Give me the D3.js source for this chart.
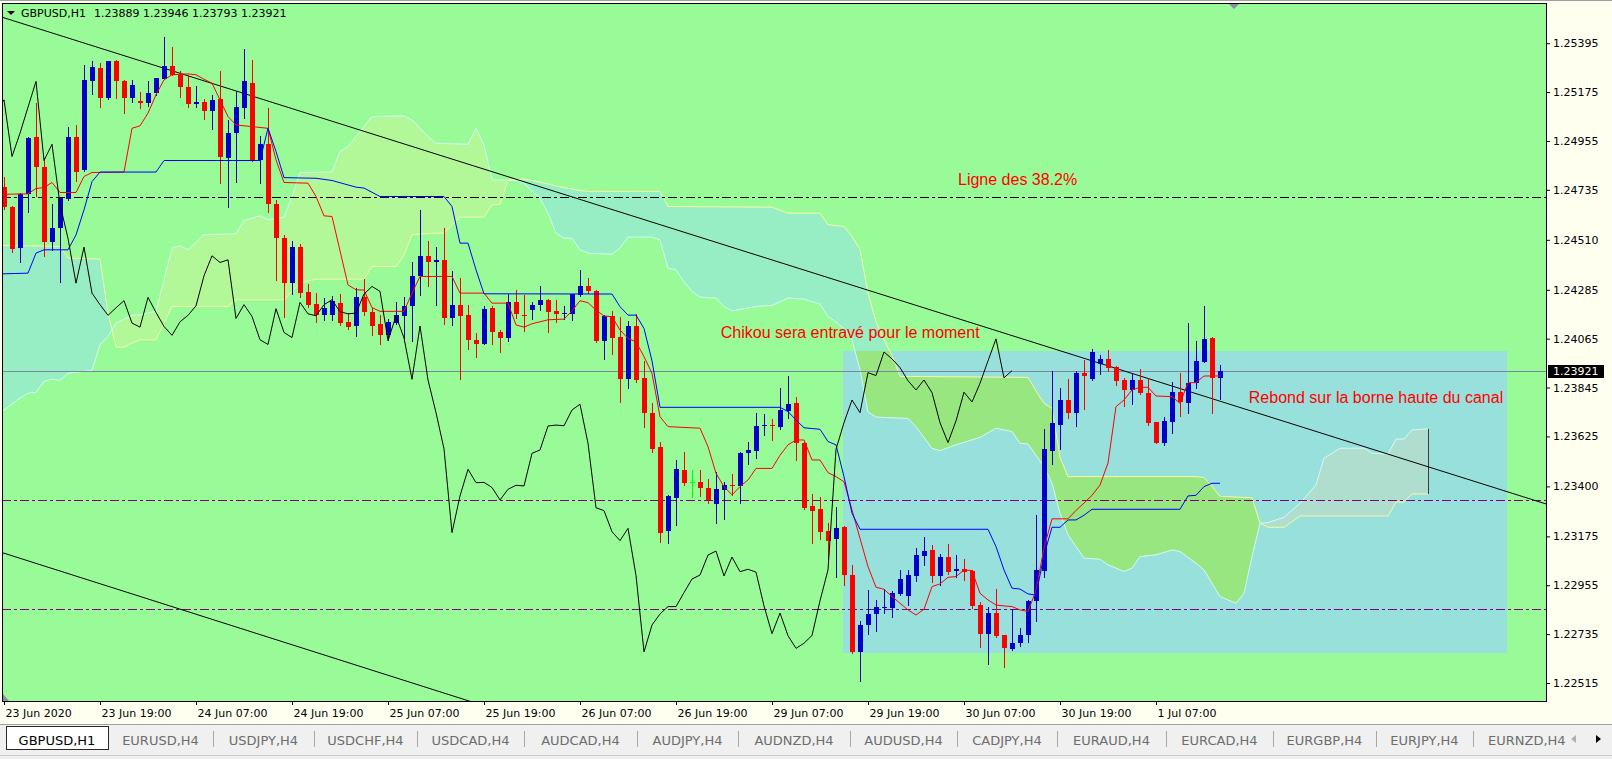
<!DOCTYPE html>
<html>
<head>
<meta charset="utf-8">
<title>GBPUSD,H1</title>
<script src="https://cdn.jsdelivr.net/npm/d3@7"></script>
<style>
  html, body { margin: 0; padding: 0; background: #fffff0; overflow: hidden; }
  svg { display: block; }
</style>
</head>
<body>
<svg id="chart" width="1612" height="759"></svg>
<script>
// Bougies H1, barre 0 = 23 Jun 07:00, barre 152 = 1 Jul 15:00
const open = [
  1.24747,1.24657,1.24471,1.24717,1.24974,1.24836,1.24498,1.24561,1.24695,1.24971,
  1.24825,1.25227,1.25284,1.25150,1.25316,1.25226,1.25150,1.25137,1.25128,1.25170,
  1.25235,1.25293,1.25253,1.25199,1.25121,1.25131,1.25092,1.25145,1.24880,1.24993,
  1.25105,1.25218,1.24870,1.24942,1.24672,1.24518,1.24315,1.24477,1.24276,1.24221,
  1.24170,1.24170,1.24227,1.24141,1.24120,1.24251,1.24186,1.24129,1.24080,1.24136,
  1.24165,1.24210,1.24348,1.24438,1.24408,1.24420,1.24156,1.24218,1.24170,1.24060,
  1.24042,1.24204,1.24096,1.24070,1.24228,1.24172,1.24195,1.24218,1.24240,1.24190,
  1.24178,1.24177,1.24263,1.24300,1.24279,1.24056,1.24167,1.24074,1.23882,1.24122,
  1.23888,1.23731,1.23576,1.23197,1.23349,1.23474,1.23418,1.23420,1.23395,1.23320,
  1.23384,1.23405,1.23404,1.23549,1.23561,1.23670,1.23676,1.23669,1.23741,1.23774,
  1.23597,1.23312,1.23298,1.23199,1.23162,1.23219,1.23001,1.22656,1.22776,1.22824,
  1.22851,1.22854,1.22916,1.22908,1.22997,1.23087,1.23114,1.22997,1.23081,1.23021,
  1.23029,1.23020,1.22865,1.22737,1.22830,1.22731,1.22667,1.22694,1.22729,1.22886,
  1.23021,1.23559,1.23677,1.23789,1.23732,1.23909,1.23884,1.23951,1.23974,1.23939,
  1.23879,1.23834,1.23879,1.23822,1.23690,1.23597,1.23692,1.23824,1.23777,1.23864,
  1.23962,1.24069,1.23889
];
const high = [
  1.24792,1.24660,1.24720,1.24972,1.25124,1.24878,1.24672,1.24700,1.25020,1.25026,
  1.25295,1.25313,1.25305,1.25316,1.25318,1.25230,1.25230,1.25175,1.25227,1.25240,
  1.25424,1.25380,1.25268,1.25253,1.25203,1.25143,1.25162,1.25272,1.25050,1.25178,
  1.25368,1.25320,1.24978,1.25103,1.24690,1.24533,1.24506,1.24492,1.24311,1.24270,
  1.24248,1.24255,1.24266,1.24180,1.24293,1.24335,1.24203,1.24170,1.24153,1.24230,
  1.24251,1.24410,1.24645,1.24506,1.24477,1.24562,1.24370,1.24338,1.24218,1.24090,
  1.24210,1.24213,1.24105,1.24266,1.24284,1.24260,1.24230,1.24303,1.24242,1.24240,
  1.24210,1.24268,1.24372,1.24340,1.24285,1.24170,1.24190,1.24161,1.24144,1.24174,
  1.23964,1.23774,1.23602,1.23361,1.23519,1.23554,1.23474,1.23474,1.23434,1.23464,
  1.23420,1.23454,1.23554,1.23602,1.23729,1.23724,1.23702,1.23845,1.23897,1.23804,
  1.23600,1.23364,1.23354,1.23234,1.23309,1.23222,1.23046,1.22794,1.22934,1.22889,
  1.22937,1.22929,1.23024,1.23024,1.23121,1.23171,1.23136,1.23096,1.23141,1.23089,
  1.23072,1.23024,1.22881,1.22856,1.22939,1.22733,1.22847,1.22762,1.22889,1.23272,
  1.23657,1.23919,1.23842,1.23884,1.23919,1.23969,1.24019,1.23992,1.24014,1.23942,
  1.23887,1.23909,1.23929,1.23887,1.23692,1.23714,1.23872,1.23909,1.24137,1.24055,
  1.24212,1.24071,1.23946
];
const low = [
  1.24650,1.24457,1.24412,1.24633,1.24705,1.24435,1.24465,1.24318,1.24690,1.24773,
  1.24820,1.25167,1.25106,1.25145,1.25150,1.25083,1.25131,1.25103,1.25113,1.25161,
  1.25233,1.25250,1.25155,1.25107,1.25107,1.25053,1.25008,1.24765,1.24657,1.24768,
  1.25058,1.24865,1.24765,1.24635,1.24327,1.24162,1.24267,1.24252,1.24207,1.24140,
  1.24147,1.24150,1.24126,1.24108,1.24075,1.24170,1.24080,1.24041,1.24060,1.24132,
  1.24053,1.24053,1.24262,1.24300,1.24218,1.24132,1.24125,1.23885,1.24020,1.23982,
  1.24040,1.24041,1.24003,1.24053,1.24158,1.24098,1.24153,1.24195,1.24095,1.24142,
  1.24155,1.24147,1.24258,1.24270,1.24050,1.23974,1.23996,1.23782,1.23845,1.23872,
  1.23666,1.23557,1.23150,1.23145,1.23226,1.23406,1.23354,1.23359,1.23327,1.23234,
  1.23252,1.23360,1.23324,1.23503,1.23527,1.23632,1.23609,1.23659,1.23707,1.23519,
  1.23300,1.23144,1.23162,1.23061,1.22994,1.22954,1.22652,1.22525,1.22734,1.22751,
  1.22832,1.22814,1.22911,1.22866,1.22976,1.23046,1.22971,1.22956,1.23004,1.22991,
  1.22979,1.22852,1.22679,1.22599,1.22724,1.22589,1.22664,1.22680,1.22700,1.22792,
  1.22991,1.23499,1.23569,1.23709,1.23673,1.23748,1.23880,1.23906,1.23920,1.23857,
  1.23764,1.23770,1.23816,1.23677,1.23594,1.23587,1.23642,1.23717,1.23732,1.23844,
  1.23960,1.23729,1.23793
];
const close = [
  1.24657,1.24468,1.24717,1.24969,1.24836,1.24498,1.24562,1.24698,1.24975,1.24815,
  1.25230,1.25290,1.25150,1.25313,1.25223,1.25150,1.25208,1.25128,1.25170,1.25238,
  1.25293,1.25253,1.25196,1.25121,1.25131,1.25092,1.25140,1.24885,1.24990,1.25107,
  1.25223,1.24867,1.24940,1.24670,1.24516,1.24315,1.24477,1.24270,1.24218,1.24170,
  1.24204,1.24236,1.24135,1.24117,1.24251,1.24183,1.24120,1.24080,1.24141,1.24170,
  1.24213,1.24348,1.24438,1.24408,1.24420,1.24156,1.24218,1.24165,1.24060,1.24039,
  1.24200,1.24093,1.24070,1.24228,1.24177,1.24168,1.24218,1.24240,1.24186,1.24177,
  1.24180,1.24266,1.24300,1.24278,1.24056,1.24167,1.24068,1.23882,1.24122,1.23879,
  1.23732,1.23569,1.23192,1.23357,1.23477,1.23417,1.23418,1.23395,1.23339,1.23387,
  1.23405,1.23402,1.23549,1.23564,1.23672,1.23676,1.23673,1.23744,1.23770,1.23594,
  1.23304,1.23291,1.23196,1.23156,1.23211,1.22999,1.22655,1.22776,1.22826,1.22859,
  1.22859,1.22922,1.22983,1.23001,1.23091,1.23109,1.22997,1.23082,1.23016,1.23027,
  1.23014,1.22862,1.22737,1.22830,1.22728,1.22671,1.22694,1.22729,1.22885,1.23024,
  1.23567,1.23687,1.23789,1.23732,1.23912,1.23899,1.24005,1.23974,1.23935,1.23876,
  1.23834,1.23879,1.23822,1.23687,1.23597,1.23695,1.23824,1.23780,1.23864,1.23965,
  1.24064,1.23889,1.23921
];

// Ichimoku : [barre, prix]
const tenkan = [[-1,1.24717],[0,1.24715],[3,1.24717],[4,1.24741],[5,1.24745],[6,1.24768],[7,1.24723],[9,1.24723],[10,1.24795],[11,1.24813],[15,1.24815],[16,1.25012],[17,1.25023],[18,1.25080],[19,1.25163],[20,1.25230],[21,1.25253],[23,1.25257],[24,1.25253],[25,1.25233],[26,1.25215],[27,1.25140],[28,1.25065],[29,1.25027],[33,1.25012],[34,1.24870],[35,1.24768],[38,1.24765],[39,1.24705],[40,1.24618],[41,1.24615],[43,1.24307],[44,1.24285],[45,1.24284],[46,1.24205],[47,1.24188],[50,1.24188],[51,1.24270],[52,1.24345],[56,1.24345],[57,1.24270],[60,1.24270],[61,1.24225],[63,1.24225],[64,1.24127],[65,1.24117],[66,1.24132],[68,1.24150],[70,1.24153],[71,1.24190],[72,1.24236],[73,1.24227],[74,1.24194],[75,1.24167],[76,1.24164],[77,1.24104],[78,1.24066],[79,1.24051],[80,1.23984],[81,1.23909],[82,1.23714],[83,1.23669],[87,1.23662],[88,1.23579],[89,1.23459],[90,1.23399],[91,1.23362],[92,1.23399],[93,1.23429],[94,1.23481],[96,1.23481],[97,1.23540],[98,1.23587],[99,1.23609],[100,1.23609],[101,1.23519],[102,1.23519],[103,1.23462],[104,1.23444],[105,1.23421],[106,1.23294],[107,1.23166],[108,1.23039],[109,1.22946],[110,1.22937],[111,1.22904],[112,1.22874],[113,1.22844],[114,1.22821],[115,1.22847],[116,1.22949],[117,1.22961],[118,1.22991],[119,1.22994],[120,1.23024],[121,1.23021],[122,1.22919],[123,1.22889],[124,1.22866],[125,1.22862],[126,1.22859],[127,1.22844],[128,1.22837],[129,1.22931],[130,1.23123],[131,1.23254],[133,1.23254],[134,1.23292],[135,1.23325],[136,1.23360],[137,1.23406],[138,1.23505],[139,1.23759],[140,1.23789],[141,1.23834],[142,1.23846],[143,1.23846],[144,1.23807],[146,1.23804],[147,1.23774],[148,1.23867],[149,1.23867],[150,1.23897],[152,1.23897]];
const kijun = [[-1,1.24357],[0,1.24357],[3,1.24360],[4,1.24450],[5,1.24465],[8,1.24465],[9,1.24532],[10,1.24645],[11,1.24772],[12,1.24815],[19,1.24815],[20,1.24867],[32,1.24867],[33,1.25012],[34,1.24908],[35,1.24790],[39,1.24787],[41,1.24777],[44,1.24747],[45,1.24743],[47,1.24705],[55,1.24705],[56,1.24660],[57,1.24495],[58,1.24495],[59,1.24375],[60,1.24267],[76,1.24266],[77,1.24209],[78,1.24171],[79,1.24171],[80,1.24111],[81,1.23965],[82,1.23756],[97,1.23756],[98,1.23737],[99,1.23699],[100,1.23664],[102,1.23657],[103,1.23602],[104,1.23587],[105,1.23444],[106,1.23279],[107,1.23207],[123,1.23207],[124,1.23129],[125,1.23024],[126,1.22942],[127,1.22938],[128,1.22916],[129,1.22911],[130,1.23090],[131,1.23216],[132,1.23216],[133,1.23249],[134,1.23249],[135,1.23270],[136,1.23297],[147,1.23297],[148,1.23357],[149,1.23360],[150,1.23399],[151,1.23414],[152,1.23414]];
const spanA = [[-1,1.23730],[0,1.23744],[2,1.23798],[3,1.23820],[4,1.23823],[5,1.23873],[6,1.23883],[7,1.23877],[8,1.23910],[11,1.23922],[12,1.24038],[13,1.24075],[14,1.24135],[16,1.24170],[17,1.24173],[19,1.24188],[20,1.24330],[21,1.24473],[22,1.24483],[23,1.24465],[25,1.24533],[29,1.24537],[30,1.24597],[32,1.24618],[33,1.24600],[35,1.24612],[36,1.24705],[37,1.24813],[41,1.24815],[42,1.24908],[43,1.24930],[46,1.25065],[50,1.25068],[51,1.25050],[53,1.24975],[54,1.24945],[58,1.24940],[59,1.25012],[60,1.24937],[61,1.24780],[64,1.24777],[65,1.24765],[67,1.24697],[68,1.24630],[69,1.24540],[70,1.24517],[71,1.24517],[72,1.24465],[73,1.24450],[76,1.24445],[77,1.24473],[78,1.24522],[81,1.24522],[82,1.24510],[83,1.24382],[84,1.24375],[85,1.24320],[86,1.24278],[87,1.24252],[89,1.24248],[90,1.24210],[91,1.24190],[94,1.24210],[96,1.24215],[98,1.24248],[100,1.24243],[102,1.24220],[103,1.24165],[104,1.24140],[105,1.24110],[106,1.24060],[107,1.23925],[108,1.23735],[109,1.23712],[113,1.23706],[114,1.23669],[116,1.23571],[117,1.23561],[119,1.23587],[122,1.23621],[124,1.23662],[126,1.23647],[127,1.23594],[128,1.23591],[130,1.23489],[131,1.23414],[132,1.23280],[133,1.23182],[135,1.23077],[137,1.23072],[138,1.23047],[140,1.23017],[141,1.23032],[142,1.23084],[144,1.23092],[146,1.23114],[147,1.23107],[149,1.23054],[150,1.23024],[152,1.22904],[154,1.22874],[155,1.22919],[156,1.23084],[157,1.23234],[158,1.23237],[160,1.23261],[162,1.23324],[164,1.23407],[165,1.23527],[167,1.23572],[170,1.23572],[171,1.23549],[173,1.23546],[174,1.23613],[175,1.23613],[176,1.23654],[178,1.23659]];
const spanB = [[-1,1.24485],[0,1.24485],[7,1.24480],[8,1.24428],[12,1.24423],[13,1.24180],[14,1.24027],[15,1.24027],[16,1.24045],[17,1.24060],[19,1.24060],[20,1.24135],[21,1.24210],[28,1.24210],[29,1.24240],[35,1.24240],[36,1.24278],[37,1.24315],[39,1.24333],[45,1.24333],[46,1.24390],[49,1.24390],[50,1.24440],[51,1.24533],[54,1.24540],[55,1.24540],[57,1.24612],[60,1.24612],[61,1.24668],[62,1.24670],[63,1.24780],[65,1.24783],[66,1.24777],[70,1.24745],[72,1.24732],[73,1.24728],[82,1.24728],[83,1.24660],[96,1.24657],[98,1.24630],[102,1.24630],[103,1.24578],[105,1.24570],[106,1.24525],[107,1.24465],[108,1.24270],[109,1.24140],[110,1.24060],[111,1.23990],[112,1.23895],[128,1.23891],[129,1.23830],[130,1.23774],[131,1.23751],[132,1.23530],[133,1.23444],[149,1.23444],[150,1.23440],[151,1.23400],[152,1.23355],[156,1.23349],[157,1.23234],[158,1.23216],[160,1.23216],[162,1.23267],[173,1.23267],[174,1.23329],[175,1.23329],[176,1.23366],[178,1.23366]];
const chikouShift = 26;

// Axes
const timeTickBars = [0, 12, 24, 36, 48, 60, 72, 84, 96, 108, 120, 132, 144];
const timeTickLabels = ["23 Jun 2020", "23 Jun 19:00", "24 Jun 07:00", "24 Jun 19:00", "25 Jun 07:00",
  "25 Jun 19:00", "26 Jun 07:00", "26 Jun 19:00", "29 Jun 07:00", "29 Jun 19:00", "30 Jun 07:00",
  "30 Jun 19:00", "1 Jul 07:00"];
const priceTicks = [1.25395, 1.25175, 1.24955, 1.24735, 1.24510, 1.24285, 1.24065,
  1.23845, 1.23625, 1.23400, 1.23175, 1.22955, 1.22735, 1.22515];

// Objets dessines
const hLevels = [1.24702, 1.23338, 1.22847];
const trendUpper = [[-0.5, 1.25515], [192.75, 1.23321]];
const trendLower = [[-0.5, 1.23105], [58.125, 1.22434]];
const boxBars = [105, 188];
const boxPrices = [1.22650, 1.24010];

const tabNames = ["GBPUSD,H1", "EURUSD,H4", "USDJPY,H4", "USDCHF,H4", "USDCAD,H4", "AUDCAD,H4",
  "AUDJPY,H4", "AUDNZD,H4", "AUDUSD,H4", "CADJPY,H4", "EURAUD,H4", "EURCAD,H4", "EURGBP,H4",
  "EURJPY,H4", "EURNZD,H4"];
const tabEdges = [6, 108, 213, 314, 417, 524, 637, 738, 850, 957, 1057, 1166, 1273, 1376, 1473, 1503];

// Dimensions
const W = 1612, H = 759;
const plot = {left: 2, top: 3, right: 1546, bottom: 701};
const svg = d3.select("#chart");

const x = d3.scaleLinear().domain([-0.25, 192.75]).range([plot.left, plot.right]);
const y = d3.scaleLinear().domain([1.22434, 1.25576]).range([plot.bottom, plot.top]);
const pt = d => [x(d[0]), y(d[1])];
const line = d3.line();
const fmt = d3.format(".5f");

const colors = {
  bg: "#98fb98", box: "#98e0dc",
  abOut: "#b2f898", abIn: "#b0dece", baOut: "#98eec4", baIn: "#98e680",
  spanA: "#d2fbf6", spanB: "#f8f8a6",
  bull: "#0000cd", bear: "#ff0000", doji: "#00ff00",
  tenkan: "#ff0000", kijun: "#0000ff", chikou: "#000000"
};

// Fond
svg.append("rect").attr("width", W).attr("height", H).attr("fill", "#fffff0");
svg.append("line").attr("x1", 0).attr("x2", W).attr("y1", 0.5).attr("y2", 0.5).attr("stroke", "#a0a0a0");
svg.append("rect").attr("x", plot.left).attr("y", plot.top)
  .attr("width", plot.right - plot.left).attr("height", plot.bottom - plot.top).attr("fill", colors.bg);

// Clips
const defs = svg.append("defs");
defs.append("clipPath").attr("id", "plotClip").append("rect")
  .attr("x", plot.left + 1).attr("y", plot.top + 1)
  .attr("width", plot.right - plot.left - 1).attr("height", plot.bottom - plot.top - 1);

const bPts = spanB.map(pt);
const bx0 = bPts[0][0], bx1 = bPts[bPts.length - 1][0];
defs.append("clipPath").attr("id", "aboveB").append("path")
  .attr("d", line(bPts.concat([[bx1, plot.top], [bx0, plot.top]])) + "Z");
defs.append("clipPath").attr("id", "belowB").append("path")
  .attr("d", line(bPts.concat([[bx1, plot.bottom], [bx0, plot.bottom]])) + "Z");

const boxX = x(boxBars[0]) - 1, boxW = x(boxBars[1]) - x(boxBars[0]);
const boxY = Math.round(y(boxPrices[1])), boxH = Math.round(y(boxPrices[0])) - boxY;
defs.append("clipPath").attr("id", "boxClip").append("rect")
  .attr("x", boxX).attr("y", boxY).attr("width", boxW).attr("height", boxH);

const g = svg.append("g").attr("clip-path", "url(#plotClip)");

// Rectangle
g.append("rect").attr("x", boxX).attr("y", boxY).attr("width", boxW).attr("height", boxH)
  .attr("fill", colors.box);

// Nuage
const cloudPath = line(spanA.map(pt).concat(spanB.slice().reverse().map(pt))) + "Z";
const up = g.append("g").attr("clip-path", "url(#aboveB)");
up.append("path").attr("d", cloudPath).attr("fill", colors.abOut);
up.append("g").attr("clip-path", "url(#boxClip)")
  .append("path").attr("d", cloudPath).attr("fill", colors.abIn);
const down = g.append("g").attr("clip-path", "url(#belowB)");
down.append("path").attr("d", cloudPath).attr("fill", colors.baOut);
down.append("g").attr("clip-path", "url(#boxClip)")
  .append("path").attr("d", cloudPath).attr("fill", colors.baIn);

g.append("path").attr("d", line(spanA.map(pt))).attr("fill", "none")
  .attr("stroke", colors.spanA).attr("stroke-width", 1);
g.append("path").attr("d", line(bPts)).attr("fill", "none")
  .attr("stroke", colors.spanB).attr("stroke-width", 1);

const lastA = spanA[spanA.length - 1], lastB = spanB[spanB.length - 1];
g.append("line").attr("x1", x(lastA[0]) + 0.5).attr("x2", x(lastA[0]) + 0.5)
  .attr("y1", y(lastA[1])).attr("y2", y(lastB[1])).attr("stroke", "#3c3c3c");

// Niveaux horizontaux
const levelColors = ["#000000", "#800080", "#800080"];
g.selectAll("line.level").data(hLevels).join("line").attr("class", "level")
  .attr("x1", plot.left).attr("x2", plot.right)
  .attr("y1", d => Math.round(y(d)) + 0.5).attr("y2", d => Math.round(y(d)) + 0.5)
  .attr("stroke", (d, i) => levelColors[i]).attr("stroke-dasharray", "9,3,3,3");

// Ligne du prix
const bid = close[close.length - 1];
g.append("line").attr("x1", plot.left).attr("x2", plot.right)
  .attr("y1", Math.round(y(bid)) + 0.5).attr("y2", Math.round(y(bid)) + 0.5)
  .attr("stroke", "#7b84a0");

// Lignes de tendance (prolongees)
function ray(a, b) {
  const p = pt(a), q = pt(b);
  const k = (q[1] - p[1]) / (q[0] - p[0]);
  const xa = plot.left - 5, xb = plot.right + 5;
  return [[xa, p[1] + k * (xa - p[0])], [xb, p[1] + k * (xb - p[0])]];
}
[trendUpper, trendLower].forEach(t => {
  g.append("path").attr("d", line(ray(t[0], t[1]))).attr("fill", "none")
    .attr("stroke", "#000").attr("stroke-width", 1);
});

// Bougies
const bars = d3.range(close.length);
const candleColor = i => open[i] === close[i] ? colors.doji : (close[i] > open[i] ? colors.bull : colors.bear);
const cg = g.append("g").attr("shape-rendering", "crispEdges");
cg.selectAll("line.wick").data(bars).join("line").attr("class", "wick")
  .attr("x1", i => Math.round(x(i)) + 0.5).attr("x2", i => Math.round(x(i)) + 0.5)
  .attr("y1", i => Math.round(y(high[i]))).attr("y2", i => Math.round(y(low[i])) + 1)
  .attr("stroke", candleColor);
cg.selectAll("rect.body").data(bars).join("rect").attr("class", "body")
  .attr("x", i => Math.round(x(i)) - 2).attr("width", 5)
  .attr("y", i => Math.round(y(Math.max(open[i], close[i]))))
  .attr("height", i => Math.max(1, Math.round(y(Math.min(open[i], close[i]))) - Math.round(y(Math.max(open[i], close[i])))))
  .attr("fill", candleColor);

// Tenkan, Kijun, Chikou
const chikou = d3.range(chikouShift - 1, close.length).map(i => [i - chikouShift, close[i]]);
[[tenkan, colors.tenkan], [kijun, colors.kijun], [chikou, colors.chikou]].forEach(s => {
  g.append("path").attr("d", line(s[0].map(pt))).attr("fill", "none")
    .attr("stroke", s[1]).attr("stroke-width", 1);
});

// Annotations
const notes = [
  {text: "Ligne des 38.2%", bar: 119.25, price: 1.24757},
  {text: "Chikou sera entravé pour le moment", bar: 89.6, price: 1.24070},
  {text: "Rebond sur la borne haute du canal", bar: 155.6, price: 1.23777}
];
g.selectAll("text.note").data(notes).join("text").attr("class", "note")
  .attr("x", d => x(d.bar)).attr("y", d => y(d.price))
  .attr("font-family", "'Liberation Sans', Arial, sans-serif").attr("font-size", 16)
  .attr("fill", "#ff0000").text(d => d.text);

// Repere de decalage
const sx = Math.round(x(153.75));
svg.append("path").attr("d", line([[sx - 5, plot.top + 1], [sx + 5, plot.top + 1], [sx, plot.top + 6]]) + "Z")
  .attr("fill", "#8c8ca4");
svg.append("path").attr("d", line([[plot.left + 1, plot.bottom - 7], [plot.left + 1, plot.bottom], [plot.left + 7, plot.bottom]]) + "Z")
  .attr("fill", "#8c8ca4");

// Entete
svg.append("path").attr("d", line([[7, 11], [15, 11], [11, 15]]) + "Z").attr("fill", "#000");
const hdr = svg.append("g").attr("font-family", "'DejaVu Sans', sans-serif").attr("font-size", 11).attr("fill", "#000");
hdr.append("text").attr("x", 21).attr("y", 17).text("GBPUSD,H1");
const n = close.length - 1;
hdr.append("text").attr("x", 94).attr("y", 17)
  .text([open[n], high[n], low[n], close[n]].map(fmt).join(" "));

// Cadre
svg.append("rect").attr("x", plot.left + 0.5).attr("y", plot.top + 0.5)
  .attr("width", plot.right - plot.left).attr("height", plot.bottom - plot.top)
  .attr("fill", "none").attr("stroke", "#000");

// Axe des prix
const yAxis = svg.append("g").attr("transform", `translate(${plot.right},0)`)
  .call(d3.axisRight(y).tickValues(priceTicks).tickFormat(fmt).tickSize(4).tickSizeOuter(0));
yAxis.select(".domain").remove();
yAxis.attr("font-family", "'DejaVu Sans', sans-serif").attr("font-size", 11).attr("color", "#000");

// Etiquette du prix courant
const by = Math.round(y(bid));
svg.append("rect").attr("x", plot.right + 2).attr("y", by - 6).attr("width", 56).attr("height", 13).attr("fill", "#000");
svg.append("text").attr("x", plot.right + 7).attr("y", by + 4)
  .attr("font-family", "'DejaVu Sans', sans-serif").attr("font-size", 11).attr("fill", "#fff").text(fmt(bid));

// Axe du temps
const xAxis = svg.append("g").attr("transform", `translate(0,${plot.bottom})`)
  .call(d3.axisBottom(x).tickValues(timeTickBars).tickFormat((d, i) => timeTickLabels[i]).tickSize(4).tickSizeOuter(0));
xAxis.select(".domain").remove();
xAxis.attr("font-family", "'DejaVu Sans', sans-serif").attr("font-size", 11).attr("color", "#000");
xAxis.selectAll("text").attr("text-anchor", "start").attr("x", 1).attr("y", 8);

// Onglets
const tabs = svg.append("g");
tabs.append("rect").attr("x", 0).attr("y", 724).attr("width", W).attr("height", H - 724).attr("fill", "#f0f0f0");
tabs.append("line").attr("x1", 0).attr("x2", W).attr("y1", 724.5).attr("y2", 724.5).attr("stroke", "#a0a0a0");
tabs.append("line").attr("x1", 0).attr("x2", W).attr("y1", 755.5).attr("y2", 755.5).attr("stroke", "#c8c8c8");
tabs.append("rect").attr("x", tabEdges[0] + 0.5).attr("y", 726.5).attr("width", tabEdges[1] - tabEdges[0])
  .attr("height", 23).attr("fill", "#fff").attr("stroke", "#2a2a2a");
tabs.selectAll("line.sep").data(tabEdges.slice(2, 15)).join("line").attr("class", "sep")
  .attr("x1", d => d + 0.5).attr("x2", d => d + 0.5).attr("y1", 731).attr("y2", 747).attr("stroke", "#a8a8a8");
defs.append("clipPath").attr("id", "tabClip").append("rect").attr("x", 0).attr("y", 724).attr("width", 1566).attr("height", 35);
tabs.append("g").attr("clip-path", "url(#tabClip)")
  .selectAll("text").data(tabNames).join("text")
  .attr("x", (d, i) => (tabEdges[i] + tabEdges[i + 1]) / 2 + (i === 14 ? 15 : 0))
  .attr("y", 745).attr("text-anchor", (d, i) => i === 14 ? "start" : "middle")
  .attr("font-family", "'DejaVu Sans', sans-serif").attr("font-size", 13)
  .attr("fill", (d, i) => i === 0 ? "#000" : "#6d6d6d")
  .text(d => d);
tabs.selectAll("text").filter((d, i) => i === 14).attr("x", 1488);
tabs.append("path").attr("d", line([[1576, 735], [1576, 743], [1571, 739]]) + "Z").attr("fill", "#b0b0b0");
tabs.append("path").attr("d", line([[1596, 735], [1596, 743], [1601, 739]]) + "Z").attr("fill", "#000");
</script>
</body>
</html>
